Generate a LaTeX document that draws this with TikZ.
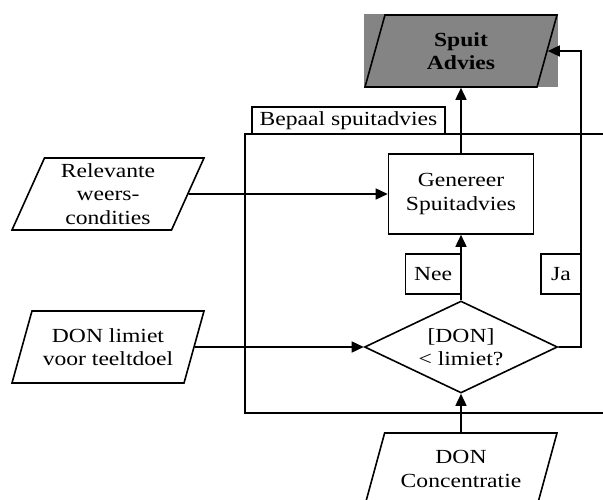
\documentclass[tikz,border=0pt]{standalone}
\usepackage{fontspec}
\setmainfont{Liberation Serif}[FakeStretch=1.18]
\usetikzlibrary{shapes.geometric,arrows.meta}
\definecolor{advgray}{RGB}{132,132,132}
\begin{document}
\begin{tikzpicture}[x=1pt,y=-1pt,line width=1.6pt,font=\fontsize{20}{23.5}\selectfont,
  io/.style={shape=trapezium,trapezium left angle=62,trapezium right angle=118,trapezium stretches body,minimum width=192pt,minimum height=72pt,inner sep=0pt,draw=black,fill=white,align=center},
  box/.style={shape=rectangle,draw=black,fill=white,inner sep=0pt,align=center},
  arr/.style={-{Triangle[length=12pt,width=11pt]}}]
\useasboundingbox (0,0) rectangle (603,500);
\clip (0,0) rectangle (603,500);
\draw (603,134) -- (245,134) -- (245,413) -- (603,413);
\node (bg) at (461,51) [shape=rectangle,fill=advgray,minimum width=194pt,minimum height=73pt] {};
\node (spuit) at (461,51) [io,fill=advgray] {\textbf{Spuit}\\\textbf{Advies}};
\node (bepaal) at (348.5,120.5) [box,minimum width=193pt,minimum height=27pt] {Bepaal spuitadvies};
\node (gen) at (461,194) [box,minimum width=145pt,minimum height=80pt] {Genereer\\Spuitadvies};
\node (rel) at (108,194) [io] {Relevante\\weers-\\condities};
\node (lim) at (108,347) [io] {DON limiet\\voor teeltdoel};
\node (dia) at (461,347) [shape=diamond,draw=black,fill=white,aspect=2.1,minimum width=193pt,minimum height=92pt,inner sep=0pt,align=center] {[DON]\\< limiet?};
\node (nee) at (433,274) [box,minimum width=55pt,minimum height=40pt] {Nee};
\node (ja) at (561,274) [box,minimum width=40pt,minimum height=40pt] {Ja};
\node (conc) at (461,469) [io] {DON\\Concentratie};
\coordinate (jb) at (581,347);
\coordinate (jt) at (581,51);
\draw[arr] (gen) -- (spuit);
\draw[arr] (rel) -- (gen);
\draw[arr] (lim) -- (dia);
\draw[arr] (dia) -- (gen);
\draw[arr] (conc) -- (dia);
\draw[arr] (dia.east) -- (jb) -- (jt) -- (spuit);
\end{tikzpicture}
\end{document}
